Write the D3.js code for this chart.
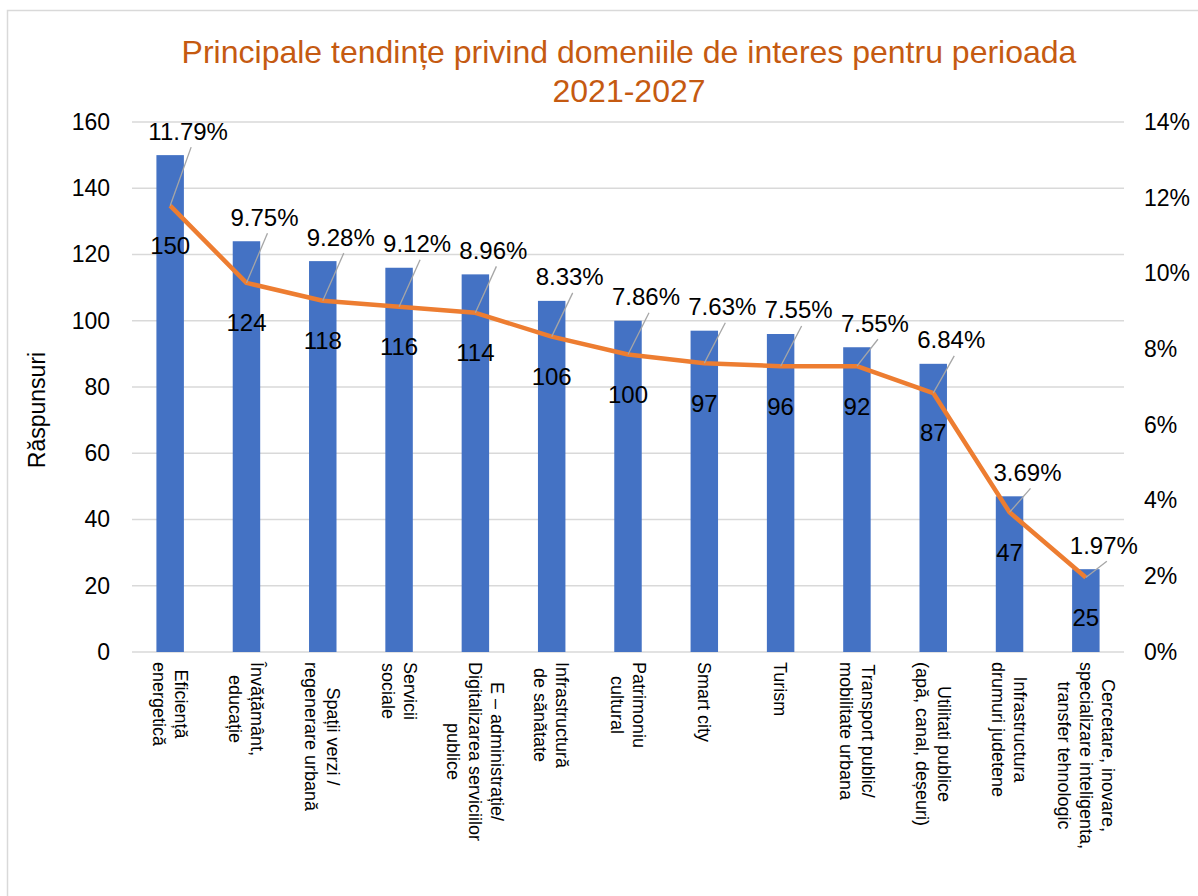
<!DOCTYPE html>
<html>
<head>
<meta charset="utf-8">
<script src="https://cdn.jsdelivr.net/npm/d3@7"></script>
<style>
  body { margin: 0; background: #fff; }
  text { font-family: Arial, "Liberation Sans", sans-serif; }
</style>
</head>
<body>
<svg></svg>
<script>
var categories = [
  "Eficiență\nenergetică",
  "Învățământ,\neducație",
  "Spații verzi /\nregenerare urbană",
  "Servicii\nsociale",
  "E – administrație/\nDigitalizarea serviciilor\npublice",
  "Infrastructură\nde sănătate",
  "Patrimoniu\ncultural",
  "Smart city",
  "Turism",
  "Transport public/\nmobilitate urbana",
  "Utilitati publice\n(apă, canal, deșeuri)",
  "Infrastructura\ndrumuri judetene",
  "Cercetare, inovare,\nspecializare inteligenta,\ntransfer tehnologic"
];
var responses = [150, 124, 118, 116, 114, 106, 100, 97, 96, 92, 87, 47, 25];
var shares = [11.79, 9.75, 9.28, 9.12, 8.96, 8.33, 7.86, 7.63, 7.55, 7.55, 6.84, 3.69, 1.97];
var leftTicks = [0, 20, 40, 60, 80, 100, 120, 140, 160];
var rightTicks = [0, 2, 4, 6, 8, 10, 12, 14];
var titleLines = ["Principale tendințe privind domeniile de interes pentru perioada", "2021-2027"];
var yTitle = "Răspunsuri";

var width = 1198,
  height = 896;

var svg = d3.select('svg').attr('width', width).attr('height', height);

// chart frame
svg.append('rect')
  .attr('x', 7.5).attr('y', 10.5)
  .attr('width', 1200).attr('height', 900)
  .attr('fill', 'none')
  .attr('stroke', '#d9d9d9')
  .attr('stroke-width', 1.5);

var margin = {top: 122, right: 74, bottom: 244, left: 132},
  chartWidth = width - margin.left - margin.right,
  chartHeight = height - margin.top - margin.bottom,
  g = svg.append('g').attr('transform', 'translate(' + margin.left + ',' + margin.top + ')');

var x = d3.scaleBand()
  .domain(categories)
  .range([0, chartWidth])
  .paddingInner(0.64)
  .paddingOuter(0.32);

var y = d3.scaleLinear()
  .domain([0, 160])
  .range([chartHeight, 0]);

var y2 = d3.scaleLinear()
  .domain([0, 14])
  .range([chartHeight, 0]);

function cx(d) { return x(d) + x.bandwidth() / 2; }

// title
svg.selectAll('text.title')
  .data(titleLines)
  .enter().append('text')
  .attr('class', 'title')
  .attr('x', 629)
  .attr('y', function(d, i) { return 52 + i * 39; })
  .attr('dy', '0.35em')
  .attr('text-anchor', 'middle')
  .attr('fill', '#C55A11')
  .style('font-size', '32px')
  .text(function(d) { return d; });

// gridlines
g.selectAll('line.grid')
  .data(leftTicks)
  .enter().append('line')
  .attr('class', 'grid')
  .attr('x1', 0).attr('x2', chartWidth)
  .attr('y1', function(d) { return y(d); })
  .attr('y2', function(d) { return y(d); })
  .attr('stroke', '#d9d9d9')
  .attr('stroke-width', 1.3);

// axes
var yAxis = g.append('g')
  .call(d3.axisLeft(y).tickValues(leftTicks).tickSize(0).tickPadding(22));
var yAxis2 = g.append('g')
  .attr('transform', 'translate(' + chartWidth + ',0)')
  .call(d3.axisRight(y2).tickValues(rightTicks).tickSize(0).tickPadding(20)
    .tickFormat(function(d) { return d + '%'; }));
[yAxis, yAxis2].forEach(function(a) {
  a.select('.domain').remove();
  a.selectAll('text')
    .attr('fill', '#000')
    .style('font-size', '23px')
    .style('font-family', 'Arial, "Liberation Sans", sans-serif');
});

// y title
svg.append('text')
  .attr('transform', 'translate(37,410) rotate(-90)')
  .attr('dy', '0.35em')
  .attr('text-anchor', 'middle')
  .style('font-size', '23px')
  .text(yTitle);

// bars
g.selectAll('rect.bar')
  .data(categories)
  .enter().append('rect')
  .attr('class', 'bar')
  .attr('x', function(d) { return x(d); })
  .attr('width', x.bandwidth())
  .attr('y', function(d, i) { return y(responses[i]); })
  .attr('height', function(d, i) { return chartHeight - y(responses[i]); })
  .attr('fill', '#4472C4');

// share line
var line = d3.line()
  .x(function(d, i) { return cx(categories[i]); })
  .y(function(d) { return y2(d); });

g.append('path')
  .datum(shares)
  .attr('d', line)
  .attr('fill', 'none')
  .attr('stroke', '#ED7D31')
  .attr('stroke-width', 4.5)
  .attr('stroke-linejoin', 'round');

// leader lines + percentage labels
function labelX(i) { return cx(categories[i]) + 18; }
function labelY(i) { return y(responses[i]) - 24; }

g.selectAll('line.leader')
  .data(shares)
  .enter().append('line')
  .attr('class', 'leader')
  .attr('x1', function(d, i) { return cx(categories[i]); })
  .attr('y1', function(d) { return y2(d); })
  .attr('x2', function(d, i) { return labelX(i) + 3; })
  .attr('y2', function(d, i) { return labelY(i) + 16; })
  .attr('stroke', '#a6a6a6')
  .attr('stroke-width', 1.3);

g.selectAll('text.pct')
  .data(shares)
  .enter().append('text')
  .attr('class', 'pct')
  .attr('x', function(d, i) { return labelX(i); })
  .attr('y', function(d, i) { return labelY(i); })
  .attr('dy', '0.35em')
  .attr('text-anchor', 'middle')
  .style('font-size', '24px')
  .text(function(d) { return d.toFixed(2) + '%'; });

// response counts
g.selectAll('text.count')
  .data(responses)
  .enter().append('text')
  .attr('class', 'count')
  .attr('x', function(d, i) { return cx(categories[i]); })
  .attr('y', function(d, i) { return y2(shares[i]) + 40; })
  .attr('dy', '0.35em')
  .attr('text-anchor', 'middle')
  .style('font-size', '24px')
  .text(function(d) { return d; });

// category labels, rotated
var lh = 22;
categories.forEach(function(c) {
  var lines = c.split('\n');
  var lg = g.append('g')
    .attr('transform', 'translate(' + cx(c) + ',' + (chartHeight + 10) + ') rotate(90)');
  var texts = lg.selectAll('text')
    .data(lines)
    .enter().append('text')
    .attr('y', function(d, i) { return (i - (lines.length - 1) / 2) * lh; })
    .attr('dy', '0.35em')
    .attr('text-anchor', 'middle')
    .style('font-size', '18px')
    .text(function(d) { return d; });
  var maxLen = d3.max(texts.nodes(), function(n) { return n.getComputedTextLength(); });
  texts.attr('x', maxLen / 2);
});
</script>
</body>
</html>
